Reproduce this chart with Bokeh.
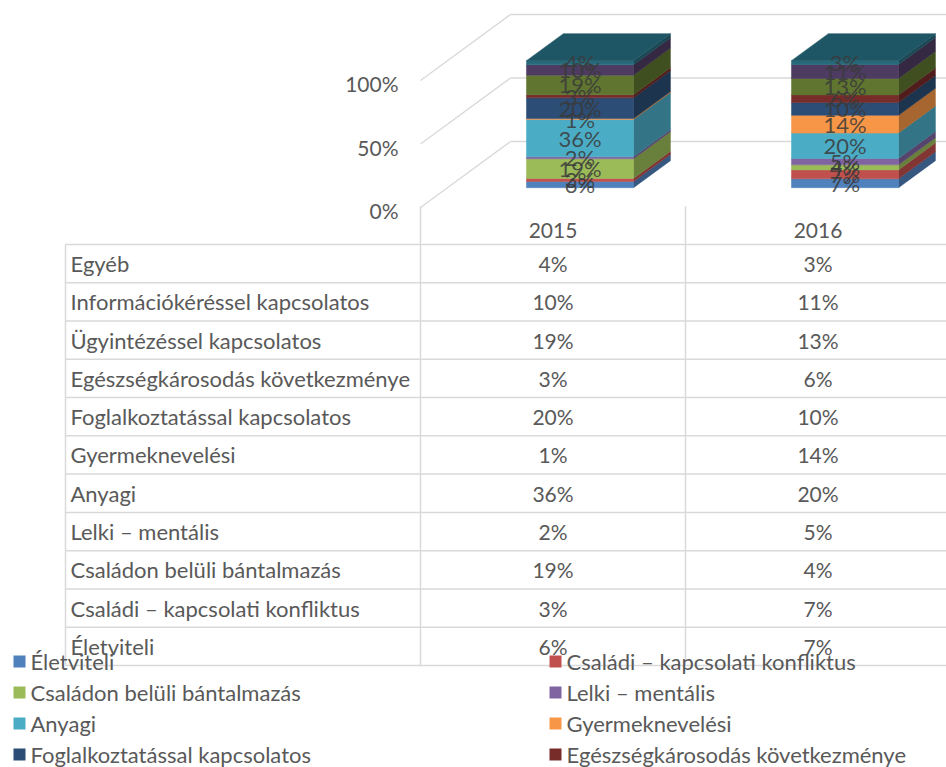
from bokeh.plotting import figure
from bokeh.models import Range1d
from bokeh.embed import file_html
from bokeh.resources import INLINE
from bokeh.core.properties import value

# ---------------- data ----------------
years = ["2015", "2016"]
series = [
    "Életviteli",
    "Családi – kapcsolati konfliktus",
    "Családon belüli bántalmazás",
    "Lelki – mentális",
    "Anyagi",
    "Gyermeknevelési",
    "Foglalkoztatással kapcsolatos",
    "Egészségkárosodás következménye",
    "Ügyintézéssel kapcsolatos",
    "Információkéréssel kapcsolatos",
    "Egyéb",
]
v2015 = [6, 3, 19, 2, 36, 1, 20, 3, 19, 10, 4]
v2016 = [7, 7, 4, 5, 20, 14, 10, 6, 13, 11, 3]
colors = ["#4F81BD", "#C0504D", "#9BBB59", "#8064A2", "#4BACC6", "#F79646",
          "#2C4D75", "#772C2A", "#5F7530", "#4D3B62", "#276A7C"]
yticks = [0, 50, 100]
ytick_labels = ["0%", "50%", "100%"]

# ---------------- layout constants ----------------
W, H = 946, 767
COL_PX = 265.0      # width of a table column / category band
ORIGIN_X = 420.0    # px where category axis starts
PCT_PX = 1.27       # px per percent on front plane
ORIGIN_Y = 207.0    # px (from top) of 0% on front plane
ROW_PX = 38.27
TABLE_TOP = 244.0
LEG_ROW_PX = 31.0
LEG_TOP = 661.0

DX = 90.0 / COL_PX          # full floor depth in category units
DY = 66.0 / PCT_PX          # full floor depth in percent units
F0, F1 = 0.30, 0.71         # bar front/back depth fractions
BW = 0.404                  # bar width (category units)

GRID = "#D9D9D9"
TXT = "#595959"
FONT = value("Lato")


def shade(hex_color, k):
    h = hex_color.lstrip("#")
    r, g, b = (int(h[i:i + 2], 16) for i in (0, 2, 4))
    return "#%02x%02x%02x" % (int(r * k), int(g * k), int(b * k))


p = figure(width=W, height=H,
           x_range=Range1d(-ORIGIN_X / COL_PX, (W - ORIGIN_X) / COL_PX),
           y_range=Range1d(-(H - ORIGIN_Y) / PCT_PX, ORIGIN_Y / PCT_PX),
           output_backend="svg", toolbar_location=None, min_border=0,
           x_axis_location=None, y_axis_location=None)
p.extra_y_ranges = {
    "table": Range1d(start=(H - TABLE_TOP) / ROW_PX, end=-TABLE_TOP / ROW_PX),
    "leg": Range1d(start=(H - LEG_TOP) / LEG_ROW_PX, end=-LEG_TOP / LEG_ROW_PX),
}
p.extra_x_ranges = {"legx": Range1d(0, W)}
p.grid.visible = False
p.outline_line_color = None
p.background_fill_color = "white"
p.border_fill_color = "white"

x_end = (W - ORIGIN_X) / COL_PX + 0.1

# ---------------- walls / gridlines ----------------
for t in yticks:
    p.line([DX, x_end], [t + DY, t + DY], line_color=GRID, line_width=1.3)
    p.line([0, DX], [t, t + DY], line_color=GRID, line_width=1.3)

p.text(x=[-22.0 / COL_PX] * len(yticks), y=yticks, text=ytick_labels,
       text_align="right", text_baseline="middle", y_offset=3,
       text_color=TXT, text_font=FONT, text_font_size="21px")

# ---------------- 3D stacked bars ----------------
side_xs, side_ys, side_c = [], [], []
front_xs, front_ys, front_c = [], [], []
top_xs, top_ys, top_c = [], [], []
lab_x, lab_y, lab_t = [], [], []
for i, vals in enumerate([v2015, v2016]):
    tot = float(sum(vals))
    c = i + 0.5
    xl, xr = c - BW / 2, c + BW / 2
    cum = 0.0
    for k, v in enumerate(vals):
        h = v / tot * 100.0
        y0, y1 = cum, cum + h
        cum = y1
        fx0, fy0 = F0 * DX, F0 * DY
        fx1, fy1 = F1 * DX, F1 * DY
        front_xs.append([xl + fx0, xr + fx0, xr + fx0, xl + fx0])
        front_ys.append([y0 + fy0, y0 + fy0, y1 + fy0, y1 + fy0])
        front_c.append(colors[k])
        side_xs.append([xr + fx0, xr + fx1, xr + fx1, xr + fx0])
        side_ys.append([y0 + fy0, y0 + fy1, y1 + fy1, y1 + fy0])
        side_c.append(shade(colors[k], 0.68))
        lab_x.append(c + fx0)
        lab_y.append((y0 + y1) / 2 + fy0)
        lab_t.append("%d%%" % v)
        if k == len(vals) - 1:
            top_xs.append([xl + fx0, xr + fx0, xr + fx1, xl + fx1])
            top_ys.append([y1 + fy0, y1 + fy0, y1 + fy1, y1 + fy1])
            top_c.append(shade(colors[k], 0.82))

p.patches(side_xs, side_ys, fill_color=side_c, line_color=side_c, line_width=0.5)
p.patches(front_xs, front_ys, fill_color=front_c, line_color=front_c, line_width=0.5)
p.patches(top_xs, top_ys, fill_color=top_c, line_color=top_c, line_width=0.5)
p.text(x=lab_x, y=lab_y, text=lab_t, text_align="center", text_baseline="middle",
       text_color="#3A3A3A", text_alpha=0.85, text_font=FONT, text_font_size="22px")

# ---------------- data table ----------------
nrows = len(series)
label_left = -(ORIGIN_X - 65.0) / COL_PX
for r in range(nrows + 1):
    p.line([label_left, x_end], [r, r], y_range_name="table",
           line_color=GRID, line_width=1.5)
for u in range(len(years)):
    p.line([u, u], [-1, nrows], y_range_name="table", line_color=GRID, line_width=1.5)
p.line([label_left, label_left], [0, nrows], y_range_name="table",
       line_color=GRID, line_width=1.5)

p.text(x=[i + 0.5 for i in range(len(years))], y=[-0.5] * len(years), text=years,
       y_range_name="table", text_align="center", text_baseline="middle", y_offset=5,
       text_color=TXT, text_font=FONT, text_font_size="21px")

rows = list(reversed(range(nrows)))
p.text(x=[label_left + 5.0 / COL_PX] * nrows, y=[j + 0.5 for j in range(nrows)],
       text=[series[k] for k in rows], y_range_name="table",
       text_align="left", text_baseline="middle",
       text_color=TXT, text_font=FONT, text_font_size="22px")
for i, vals in enumerate([v2015, v2016]):
    p.text(x=[i + 0.5] * nrows, y=[j + 0.5 for j in range(nrows)],
           text=["%d%%" % vals[k] for k in rows], y_range_name="table",
           text_align="center", text_baseline="middle",
           text_color=TXT, text_font=FONT, text_font_size="21px")

# ---------------- legend ----------------
shown = 8
leg_col_x = [19.0, 555.0]
lx = [leg_col_x[k % 2] for k in range(shown)]
ly = [k // 2 for k in range(shown)]
p.scatter(x=lx, y=ly, marker="square", size=12, fill_color=colors[:shown],
          line_color=None, x_range_name="legx", y_range_name="leg")
p.text(x=[x + 11 for x in lx], y=ly, text=series[:shown],
       x_range_name="legx", y_range_name="leg",
       text_align="left", text_baseline="middle",
       text_color=TXT, text_font=FONT, text_font_size="22px")

open("out.html", "w").write(file_html(p, INLINE))
